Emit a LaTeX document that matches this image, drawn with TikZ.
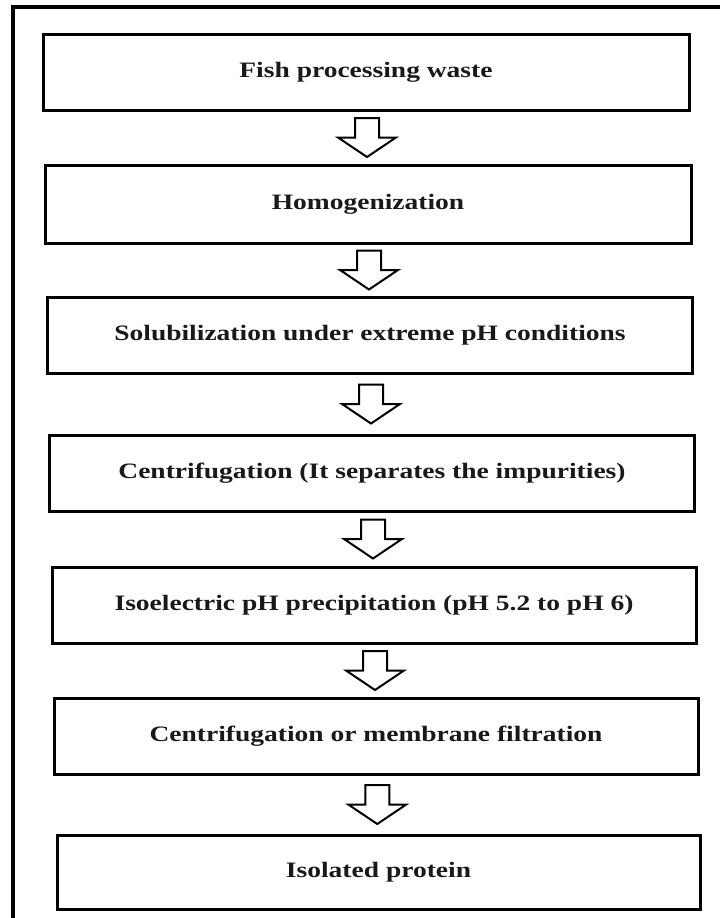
\documentclass[tikz,border=0pt]{standalone}
\usepackage{fontspec}
\setmainfont[FakeStretch=1.25]{Liberation Serif}
\usetikzlibrary{calc}
\tikzset{
  stepbox/.style={draw=black, line width=3pt, fill=white, inner sep=0pt,
    font=\fontsize{22}{26}\selectfont\bfseries, text=black!90},
  downarr/.pic={\draw[line width=2pt, line join=miter, fill=white]
    (-12,-19.5) -- (-12,0) -- (-29,0) -- (0,19.5) -- (29,0) -- (12,0) -- (12,-19.5) -- cycle;}
}
\begin{document}
\begin{tikzpicture}[x=1pt,y=-1pt]
\useasboundingbox (0,0) rectangle (720,918);
% outer frame (only top and left visible)
\draw[line width=3.5pt] (13,918) -- (13,7) -- (720,7);
\node[stepbox, minimum width=646, minimum height=76] (b1) at (366,72) {Fish processing waste};
\node[stepbox, minimum width=646, minimum height=78] (b2) at (368,204) {Homogenization};
\node[stepbox, minimum width=645, minimum height=76] (b3) at (370,335) {Solubilization under extreme pH conditions};
\node[stepbox, minimum width=645, minimum height=76] (b4) at (372,473) {Centrifugation (It separates the impurities)};
\node[stepbox, minimum width=644, minimum height=76] (b5) at (374,605) {Isoelectric pH precipitation (pH 5.2 to pH 6)};
\node[stepbox, minimum width=644, minimum height=76] (b6) at (376,736) {Centrifugation or membrane filtration};
\node[stepbox, minimum width=643, minimum height=74] (b7) at (378.5,872) {Isolated protein};
\foreach \a/\b in {b1/b2,b2/b3,b3/b4,b4/b5,b5/b6,b6/b7}{
  \path ($(\a.south)!0.5!(\b.north)$) pic {downarr};
}
\end{tikzpicture}
\end{document}
